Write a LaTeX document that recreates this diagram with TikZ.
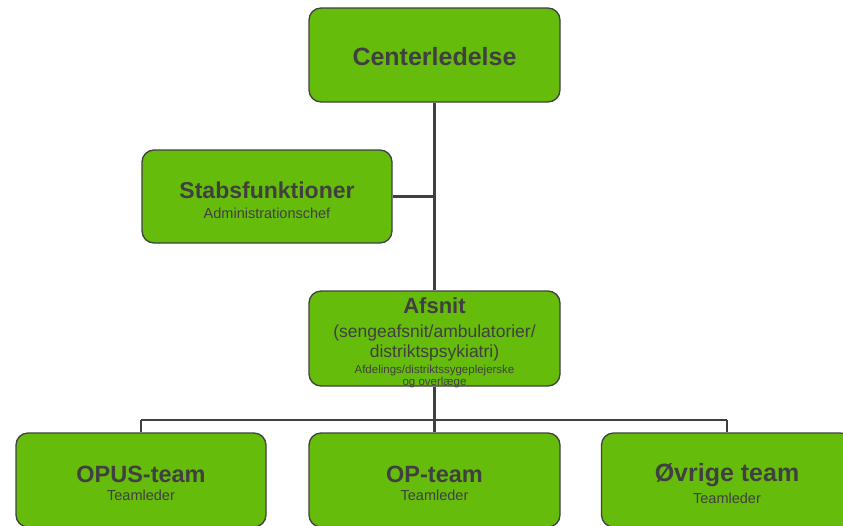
\documentclass[tikz,border=0pt]{standalone}
\usepackage{fontspec}
\setmainfont{Liberation Sans}
\definecolor{boxgreen}{RGB}{102,188,10}
\definecolor{ink}{RGB}{64,64,64}
\begin{document}
\begin{tikzpicture}[x=1pt,y=-1pt,
  orgbox/.style={draw=ink, line width=1.3pt, fill=boxgreen, rounded corners=12pt,
    minimum width=251pt, minimum height=94pt, inner sep=0pt},
  link/.style={draw=ink, line width=2.6pt},
  title/.style={text=ink, anchor=base, inner sep=0pt, font=\bfseries\fontsize{#1}{#1}\selectfont},
  sub/.style={text=ink, anchor=base, inner sep=0pt, font=\fontsize{#1}{#1}\selectfont}]
\useasboundingbox (0,0) rectangle (843,525);
\clip (0,0) rectangle (843,525);
% boxes
\node[orgbox] (c) at (434.5,55) {};
\node[orgbox, minimum width=250pt, minimum height=93pt] (s) at (267,196.5) {};
\node[orgbox, minimum height=95pt] (a) at (434.5,338.5) {};
\node[orgbox, minimum width=250pt] (o1) at (141,480) {};
\node[orgbox] (o2) at (434.5,480) {};
\node[orgbox] (o3) at (727,480) {};
% connectors
\coordinate (bus) at (434.5,420);
\coordinate (busL) at (141,420);
\coordinate (busR) at (727,420);
\draw[link] (c.south) -- (a.north);
\draw[link] (s.east) -- (s.east -| c.south);
\draw[link] (a.south) -- (bus);
\draw[link] (busL) -- (busR);
\draw[link] (busL) -- (o1.north);
\draw[link] (bus) -- (o2.north);
\draw[link] (busR) -- (o3.north);
% texts
\node[title=25] (tc) at (434.5,65) {Centerledelse};
\node[title=23] (ts) at (267,198) {Stabsfunktioner};
\node[sub=14.5] (ts2) at (267,218) {Administrationschef};
\node[title=22] (ta) at (434.5,313) {Afsnit};
\node[sub=17.5] (ta2) at (434.5,337) {(sengeafsnit/ambulatorier/};
\node[sub=17.5] (ta3) at (434.5,357) {distriktspsykiatri)};
\node[sub=11.5] (ta4) at (434.5,373) {Afdelings/distriktssygeplejerske};
\node[sub=11.5] (ta5) at (434.5,385) {og overlæge};
\node[title=23.5] (t1) at (141,482) {OPUS-team};
\node[sub=14.5] (t1b) at (141,500) {Teamleder};
\node[title=23.5] (t2) at (434.5,482) {OP-team};
\node[sub=14.5] (t2b) at (434.5,500) {Teamleder};
\node[title=25] (t3) at (727,481) {Øvrige team};
\node[sub=14.5] (t3b) at (727,503) {Teamleder};
\end{tikzpicture}
\end{document}
